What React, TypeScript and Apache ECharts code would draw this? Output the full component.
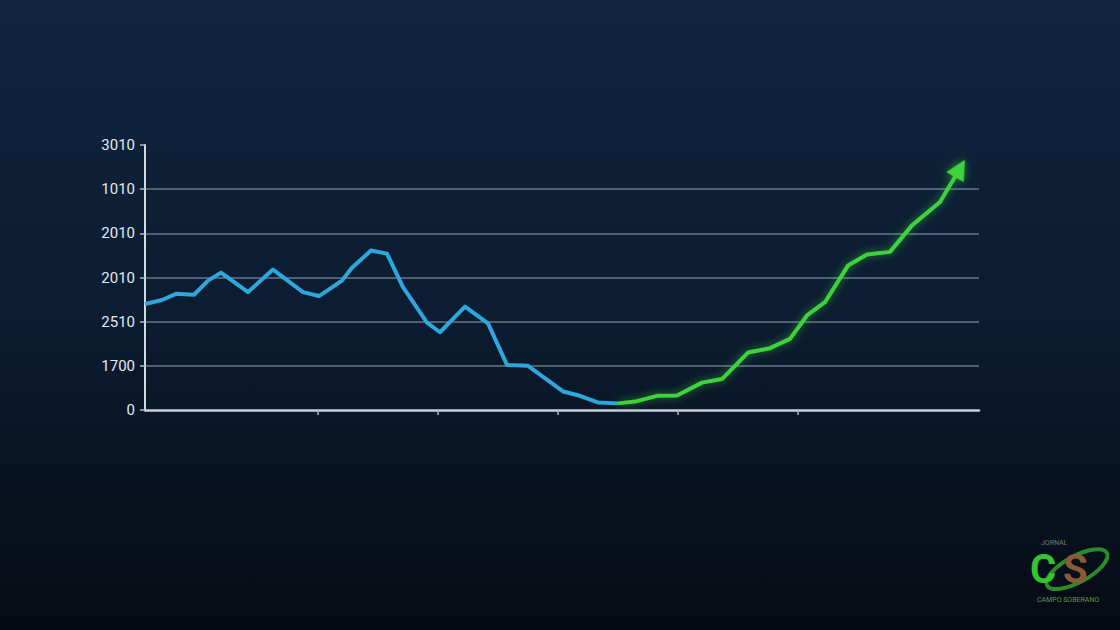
import React, { useEffect, useRef } from 'react';
import * as echarts from 'echarts';

// y axis tick labels, bottom to top (as printed on the picture)
const yLabels = ['0', '1700', '2510', '2010', '2010', '1010', '3010'];

// x positions where the small ticks sit under the axis
const xTicks = [173, 293, 413, 533, 653];

// falling part (blue): [x, y]
const blueX = [0, 17, 31, 49, 63, 76, 103, 128, 158, 174, 197, 207, 226, 242, 258, 282, 295, 320, 343, 362, 383, 418, 432, 453, 473];
const blueY = [2.4, 2.49, 2.63, 2.61, 2.93, 3.11, 2.67, 3.18, 2.67, 2.58, 2.93, 3.22, 3.61, 3.54, 2.78, 1.98, 1.76, 2.34, 1.96, 1.02, 1.0, 0.42, 0.34, 0.17, 0.15];

// rising part (green), last point = arrow head
const greenX = [473, 492, 512, 532, 557, 577, 603, 625, 645, 662, 680, 703, 722, 745, 767, 795, 815];
const greenY = [0.15, 0.2, 0.32, 0.33, 0.62, 0.7, 1.3, 1.4, 1.61, 2.14, 2.44, 3.27, 3.52, 3.58, 4.18, 4.71, 5.47];

const App: React.FC = () => {
  const chartRef = useRef<HTMLDivElement>(null);

  useEffect(() => {
    if (!chartRef.current) return;
    const chart = echarts.init(chartRef.current, undefined, { renderer: 'svg' });

    const blueData = blueX.map((x, i) => [x, blueY[i]]);
    const greenData: any[] = greenX.map((x, i) => [x, greenY[i]]);
    const last = greenData.length - 1;
    greenData[last] = {
      value: greenData[last],
      symbol: 'triangle',
      symbolSize: [20, 20],
      symbolRotate: -30,
      itemStyle: { color: '#3ed43a', shadowBlur: 8, shadowColor: 'rgba(60, 220, 60, 0.55)' },
    };

    chart.setOption({
      animation: false,
      backgroundColor: {
        type: 'linear', x: 0, y: 0, x2: 0, y2: 1,
        colorStops: [
          { offset: 0, color: '#11253e' },
          { offset: 0.5, color: '#0c1c31' },
          { offset: 1, color: '#050b14' },
        ],
      },
      grid: { left: 145, right: 141, top: 145, bottom: 220 },
      xAxis: {
        type: 'value',
        min: 0,
        max: 834,
        axisLine: { show: true, lineStyle: { color: '#c9d1da', width: 2.5 } },
        axisTick: {
          show: true,
          customValues: xTicks,
          length: 5,
          lineStyle: { color: '#aeb8c4', width: 1.5 },
        },
        axisLabel: { show: false },
        splitLine: { show: false },
      },
      yAxis: {
        type: 'value',
        min: 0,
        max: 6,
        interval: 1,
        axisLine: { show: true, lineStyle: { color: '#d3dae2', width: 2 } },
        axisTick: { show: true, length: 5, lineStyle: { color: '#aeb8c4', width: 1.5 } },
        axisLabel: {
          color: '#e3e9ef',
          fontSize: 15,
          fontFamily: '"Liberation Sans Narrow", Roboto, sans-serif',
          margin: 10,
          formatter: (v: number) => yLabels[Math.round(v)] ?? '',
        },
        splitLine: {
          show: true,
          showMinLine: false,
          showMaxLine: false,
          lineStyle: { color: '#66778a', width: 1.5 },
        },
      },
      series: [
        {
          type: 'line',
          data: blueData,
          symbol: 'none',
          lineStyle: { color: '#2ea7dc', width: 4, join: 'round' },
          z: 3,
        },
        {
          type: 'line',
          data: greenData,
          symbol: 'none',
          showSymbol: true,
          lineStyle: {
            color: '#3ed43a',
            width: 4,
            shadowBlur: 8,
            shadowColor: 'rgba(60, 220, 60, 0.55)',
          },
          z: 4,
        },
      ],
      graphic: [
        {
          type: 'group',
          left: 1030,
          top: 538,
          children: [
            {
              type: 'ellipse',
              shape: { cx: 50, cy: 30, rx: 34, ry: 13 },
              rotation: 0.5,
              originX: 50,
              originY: 30,
              style: { fill: 'none', stroke: '#2c8a2a', lineWidth: 4 },
            },
            {
              type: 'text',
              x: 14,
              y: 0,
              style: { text: 'JORNAL', fill: '#6f7c72', fontSize: 7, fontFamily: 'Roboto' },
            },
            {
              type: 'text',
              x: 3,
              y: 10,
              style: { text: 'C', fill: '#35c332', fontSize: 40, fontWeight: 'bold', fontFamily: 'Roboto' },
            },
            {
              type: 'text',
              x: 36,
              y: 10,
              style: { text: 'S', fill: '#8a5a35', fontSize: 40, fontWeight: 'bold', fontFamily: 'Roboto' },
            },
            {
              type: 'text',
              x: 10,
              y: 57,
              style: { text: 'CAMPO SOBERANO', fill: '#5a9a48', fontSize: 7, fontFamily: 'Roboto' },
            },
          ],
        },
      ],
    });

    return () => chart.dispose();
  }, []);

  return (
    <div style={{ position: 'fixed', left: 0, top: 0, width: 1120, height: 630 }}>
      <div ref={chartRef} style={{ width: 1120, height: 630 }} />
    </div>
  );
};

export default App;
